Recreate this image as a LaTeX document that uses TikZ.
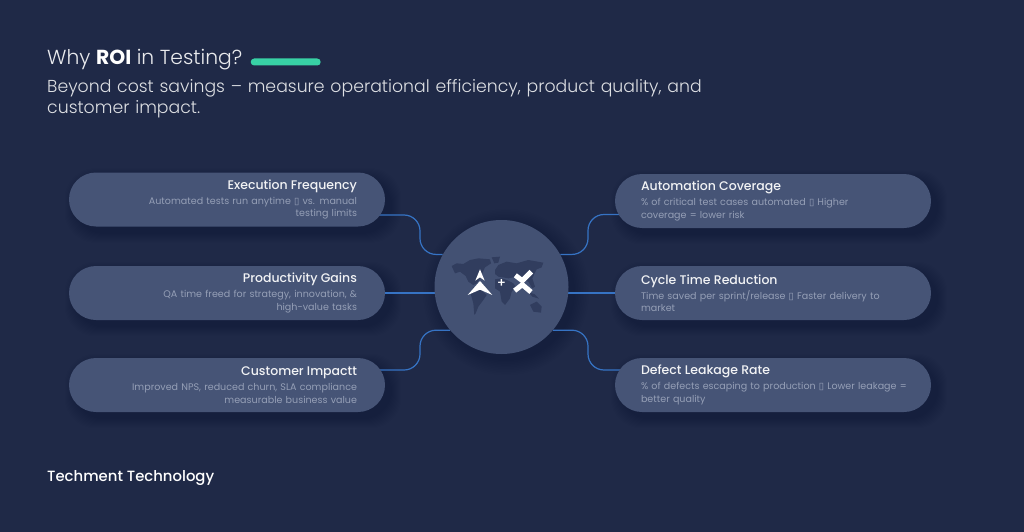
\documentclass[tikz,border=0pt]{standalone}
\usepackage{fontspec}
\setmainfont{Poppins}
\newfontfamily\lightfont{Poppins Light}
\newfontfamily\mediumfont{Poppins Medium}
\newfontfamily\heavyfont{Poppins Bold}
\newfontfamily\symbolfont{DejaVu Sans}
\usepackage{tikz}
\usetikzlibrary{positioning,calc,backgrounds}
\definecolor{pagebg}{HTML}{1F2947}
\definecolor{cardfill}{HTML}{465476}
\definecolor{hubfill}{HTML}{435173}
\definecolor{mapfill}{HTML}{313D5E}
\definecolor{linkblue}{HTML}{3673C4}
\definecolor{descgrey}{HTML}{959FB6}
\definecolor{barmint}{HTML}{38D1A5}
\newcommand{\missing}{{\symbolfont\char"25AF}}
\newcommand{\cardtext}[2]{{\mediumfont\fontsize{12.5}{12.5}\selectfont\color{white!93!cardfill}#1}\\[2.5pt]{\color{descgrey}#2}}
\tikzset{
	card/.style={fill=cardfill,rounded corners=27pt,minimum width=316pt,minimum height=54pt,inner sep=0pt,font=\fontsize{9.55}{12.5}\selectfont},
	cardleft/.style={card,text width=260pt,align=right},
	cardright/.style={card,text width=264pt,align=left},
	link/.style={draw=linkblue,line width=1.2pt,rounded corners=16pt},
	continent/.style={fill=mapfill},
	logomark/.style={fill=white},
	logostroke/.style={draw=white,line width=5pt,line cap=butt,line join=miter}
}
\begin{document}
\begin{tikzpicture}[x=1pt,y=-1pt,line cap=round,line join=round]
	\useasboundingbox (0,0) rectangle (1024,532);

	% ---- page and soft shadows
	\begin{scope}[on background layer]
		\fill[pagebg] (0,0) rectangle (1024,532);
		\foreach \xc/\yc in {227/199.5,227/293,227/385,773/201,773/293,773/385}{
			\foreach \g in {1,...,10}{
				\fill[black,opacity=0.012,rounded corners=30pt] ({\xc-158-\g+6},{\yc-27-\g+6}) rectangle ({\xc+158+\g+6},{\yc+27+\g+6});
			}
		}
		\foreach \g in {1,...,10}{
			\fill[black,opacity=0.012] (506,292) circle ({67+\g*1.6});
		}
	\end{scope}

	% ---- heading
	\node[anchor=west,inner sep=0pt,text=white!90!pagebg,font=\lightfont\fontsize{20.3}{24}\selectfont] (headline) at (47,60) {Why {\heavyfont\color{white}ROI} in Testing?};
	\node[anchor=west,inner sep=0pt,fill=barmint,minimum width=70pt,minimum height=7pt,rounded corners=3.5pt] (accentbar) at (250.5,62) {};
	\node[anchor=north west,inner sep=0pt,text width=680pt,align=left,text=white!85!pagebg,font=\lightfont\fontsize{17.3}{21}\selectfont] (subline) at (47,79) {Beyond cost savings – measure operational efficiency, product quality, and\\customer impact.};
	\node[anchor=west,inner sep=0pt,text=white,font=\mediumfont\fontsize{14.85}{18}\selectfont] (brand) at (47,478) {Techment Technology};

	% ---- cards
	\node[cardleft] (frequency) at (227,199.5) {\cardtext{Execution Frequency}{Automated tests run anytime \missing{} vs. manual\\testing limits}};
	\node[cardleft] (productivity) at (227,293) {\cardtext{Productivity Gains}{QA time freed for strategy, innovation, \&\\high-value tasks}};
	\node[cardleft] (customer) at (227,385) {\cardtext{Customer Impactt}{Improved NPS, reduced churn, SLA compliance\\measurable business value}};
	\node[cardright] (coverage) at (773,201) {\cardtext{Automation Coverage}{\% of critical test cases automated \missing{} Higher\\coverage = lower risk}};
	\node[cardright] (cycle) at (773,293) {\cardtext{Cycle Time Reduction}{Time saved per sprint/release \missing{} Faster delivery to\\market}};
	\node[cardright] (leakage) at (773,385) {\cardtext{Defect Leakage Rate}{\mbox{\% of defects escaping to production \missing{} Lower leakage =}\\better quality}};

	% ---- hub
	\node[circle,fill=hubfill,minimum size=134pt,inner sep=0pt] (hub) at (501.5,287) {};

	% ---- connectors
	\coordinate (bendleft) at (420,287);
	\coordinate (bendright) at (588,287);
	\begin{scope}[on background layer]
		\draw[link] ([xshift=-8pt,yshift=-15.5pt]frequency.east) -| (bendleft |- hub.151) -- (hub.151);
		\draw[link] (productivity.east) -- ([xshift=3pt]productivity.east -| hub.west);
		\draw[link] ([xshift=-8pt,yshift=15pt]customer.east) -| (bendleft |- hub.220) -- (hub.220);
		\draw[link] ([xshift=8pt,yshift=-13.5pt]coverage.west) -| (bendright |- hub.29) -- (hub.29);
		\draw[link] (cycle.west) -- ([xshift=-3pt]cycle.west -| hub.east);
		\draw[link] ([xshift=8pt,yshift=15pt]leakage.west) -| (bendright |- hub.-40) -- (hub.-40);
	\end{scope}

	% ---- map
	\begin{scope}[shift={(445,250)},scale=0.3333]
		\fill[continent] (20,48) -- (35,40) -- (55,42) -- (75,30) -- (100,25) -- (135,28) -- (138,40) -- (120,52) -- (112,70) -- (105,85) -- (95,100) -- (85,105) -- (70,95) -- (62,78) -- (45,65) -- (30,70) -- cycle;
		\fill[continent] (140,22) -- (165,20) -- (160,38) -- (148,40) -- cycle;
		\fill[continent] (85,112) -- (105,118) -- (125,135) -- (115,150) -- (100,170) -- (92,190) -- (88,195) -- (85,160) -- (78,135) -- cycle;
		\fill[continent] (150,60) -- (160,45) -- (185,35) -- (215,40) -- (250,30) -- (295,38) -- (290,52) -- (275,58) -- (268,72) -- (262,85) -- (270,110) -- (262,115) -- (250,95) -- (238,90) -- (228,100) -- (222,85) -- (205,82) -- (190,85) -- (160,80) -- (150,72) -- cycle;
		\fill[continent] (150,88) -- (170,85) -- (190,92) -- (205,100) -- (212,110) -- (200,125) -- (195,145) -- (180,165) -- (170,155) -- (165,125) -- (150,115) -- cycle;
		\fill[continent] (255,165) -- (275,155) -- (290,170) -- (288,188) -- (265,185) -- cycle;
		\fill[continent] (252,128) -- (268,132) -- (282,146) -- (262,140) -- cycle;

		% ---- logos
		\fill[logomark] (105,58) -- (119,92) -- (105,82) -- (91,92) -- cycle;
		\fill[logomark] (105,93) -- (142,135) -- (105,119) -- (68,135) -- cycle;
		\draw[logostroke] (211,76) -- (232,92) -- (259,65);
		\draw[logostroke] (209,122) -- (232,104) -- (258,126);
	\end{scope}
	\node[font=\mediumfont\fontsize{13}{13}\selectfont,text=white,inner sep=0pt] (plus) at (501.5,283) {+};
\end{tikzpicture}
\end{document}
